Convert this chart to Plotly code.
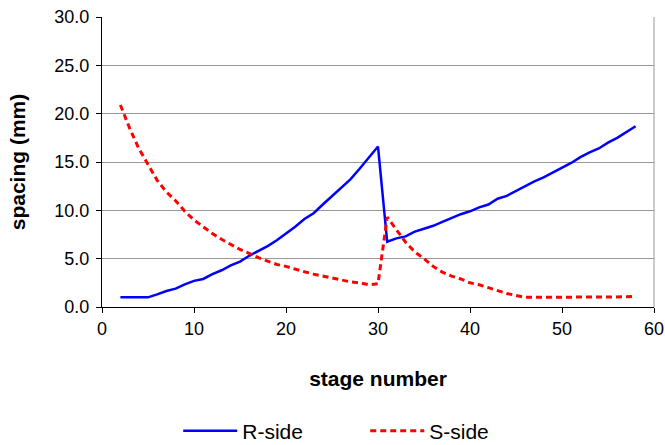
import plotly.graph_objects as go

stage = list(range(2, 59))
r_side = [1.0, 1.0, 1.0, 1.0, 1.3, 1.65, 1.9, 2.35, 2.7, 2.9, 3.4, 3.8, 4.3, 4.7, 5.3, 5.8, 6.3, 6.9, 7.6,
          8.3, 9.1, 9.7, 10.6, 11.5, 12.3, 13.2, 14.3, 15.4, 16.6,
          6.75, 7.1, 7.3, 7.8, 8.1, 8.4, 8.8, 9.2, 9.6, 9.9, 10.3, 10.6, 11.2, 11.5, 12.0, 12.5, 13.0,
          13.4, 13.9, 14.4, 14.9, 15.5, 16.0, 16.4, 17.0, 17.5, 18.1, 18.7]
s_side = [20.9, 18.5, 16.4, 14.8, 13.1, 11.9, 11.0, 9.9, 9.0, 8.3, 7.6, 7.0, 6.5, 5.95, 5.55, 5.1, 4.75,
          4.4, 4.2, 3.9, 3.65, 3.4, 3.2, 3.0, 2.8, 2.6, 2.5, 2.3, 2.4,
          9.3, 8.0, 6.7, 5.7, 5.0, 4.2, 3.6, 3.2, 2.9, 2.5, 2.3, 2.0, 1.7, 1.4, 1.2, 1.0, 1.0, 1.0,
          1.0, 1.0, 1.0, 1.0, 1.0, 1.0, 1.05, 1.05, 1.05, 1.1]
x_ticks = [0, 10, 20, 30, 40, 50, 60]
y_ticks = [0, 5, 10, 15, 20, 25, 30]
y_tick_labels = ["0.0", "5.0", "10.0", "15.0", "20.0", "25.0", "30.0"]

font = "Liberation Sans, Arial, sans-serif"

fig = go.Figure()
fig.add_trace(go.Scatter(x=stage, y=r_side, mode="lines", name="R-side",
                         line=dict(color="#0000FF", width=2.5)))
fig.add_trace(go.Scatter(x=stage, y=s_side, mode="lines", name="S-side",
                         line=dict(color="#FF0000", width=3, dash="6px,4px")))

fig.update_layout(
    width=665, height=445,
    margin=dict(l=102, r=11, t=17, b=138),
    paper_bgcolor="white", plot_bgcolor="white",
    font=dict(family=font, size=18, color="black"),
    showlegend=True,
    legend=dict(orientation="h", x=0.268, xref="container", xanchor="left",
                y=0.0315, yref="container", yanchor="middle",
                font=dict(size=21), itemwidth=54, entrywidth=118, tracegroupgap=0),
    xaxis=dict(range=[0, 60], tickvals=x_ticks, automargin=False,
               showline=True, linecolor="black", linewidth=1,
               ticks="outside", ticklen=5, tickcolor="black",
               showgrid=False, zeroline=False,
               title=dict(text="<b>stage number</b>", font=dict(size=21), standoff=33)),
    yaxis=dict(range=[0, 30], tickvals=y_ticks, ticktext=y_tick_labels, automargin=False,
               showline=True, linecolor="black", linewidth=1,
               ticks="outside", ticklen=5, tickcolor="black", ticklabelstandoff=3,
               ticklabeloverflow="allow",
               showgrid=True, gridcolor="#999999", gridwidth=1, zeroline=False,
               title=dict(text="<b>spacing (mm)</b>", font=dict(size=21), standoff=23)),
)
# right border of plot area
fig.add_shape(type="line", xref="paper", yref="paper", x0=1, x1=1, y0=0, y1=1,
              line=dict(color="#999999", width=1))

fig.write_html("out.html", config={"displayModeBar": False},
               post_script="document.body.style.margin='0';document.body.style.overflow='hidden';")
